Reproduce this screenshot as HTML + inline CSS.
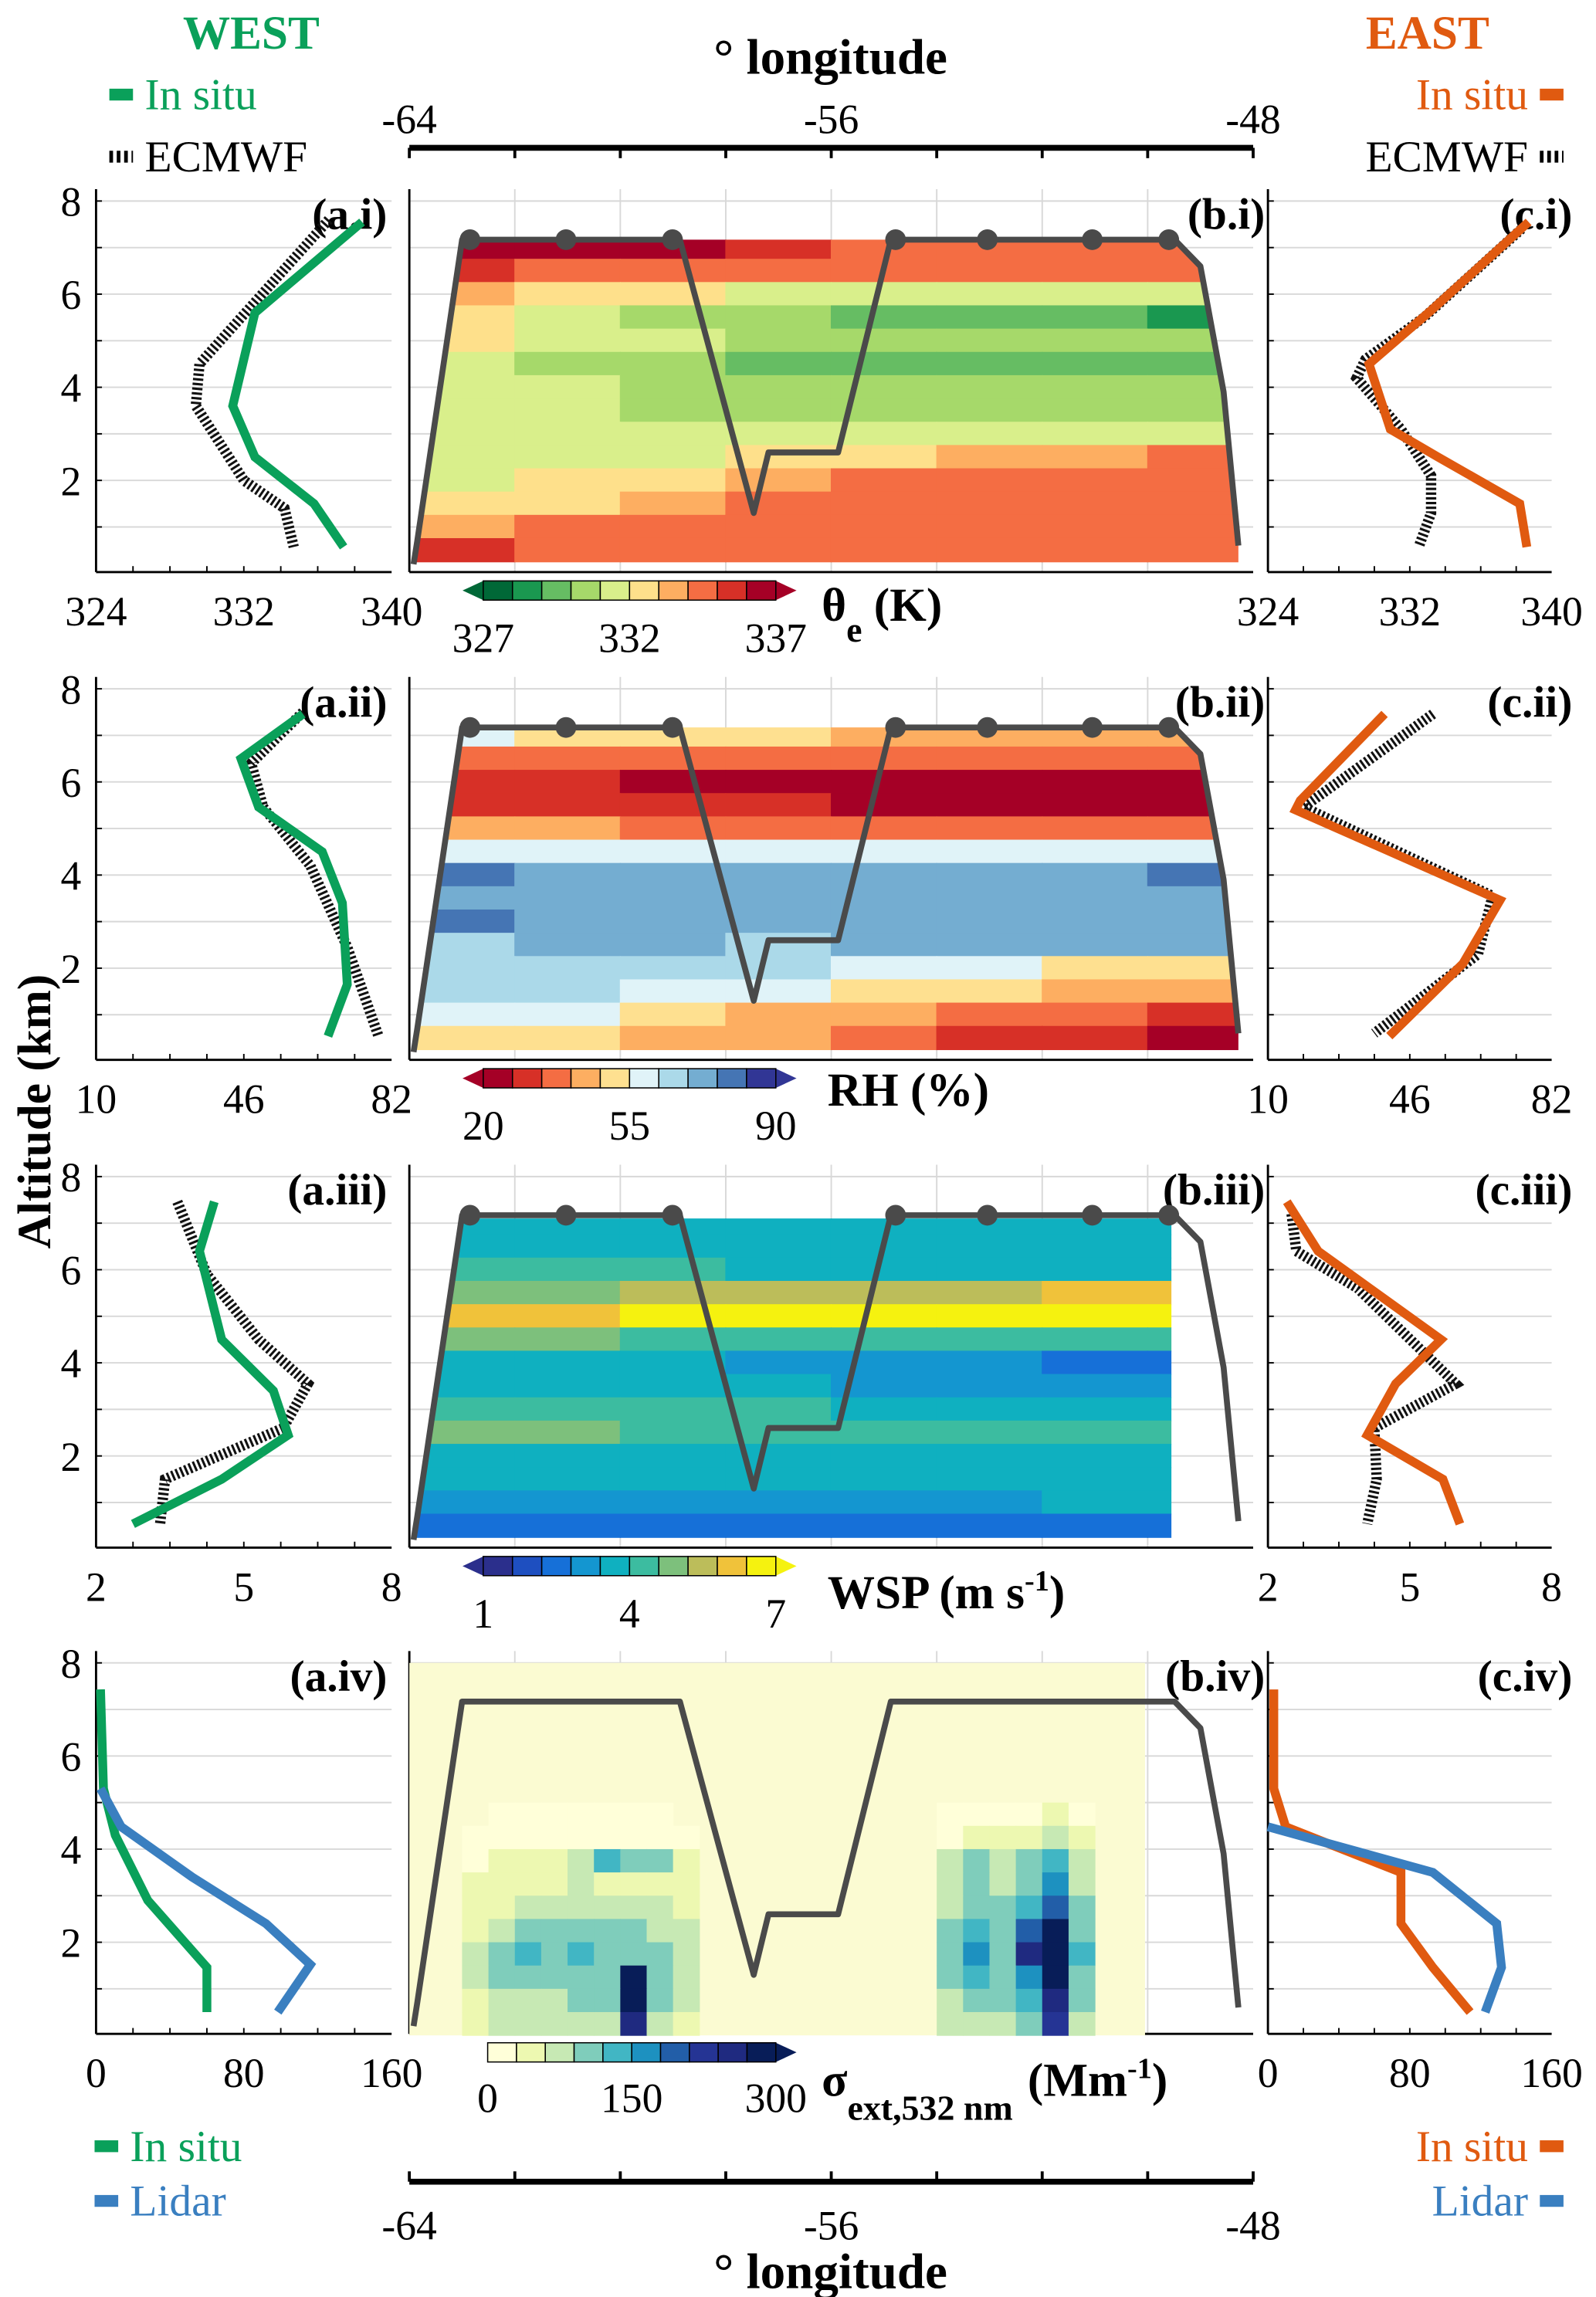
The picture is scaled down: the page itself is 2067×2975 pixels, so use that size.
<!DOCTYPE html>
<html><head><meta charset="utf-8"><style>
html,body{margin:0;padding:0;background:#fff;}
svg{display:block;}
text{font-family:"Liberation Serif",serif;}
</style></head><body>
<svg id="fig" width="2067" height="2975" viewBox="0 0 1080 1554" preserveAspectRatio="none" xmlns="http://www.w3.org/2000/svg"></svg>
<script>
// ---------- DATA ----------
const trackLon = [-63.92,-63.85,-63.0,-58.87,-57.47,-57.19,-55.87,-54.87,-49.49,-49.0,-48.56,-48.28];
const trackAlt = [0.2,0.7,7.17,7.17,1.3,2.6,2.6,7.17,7.17,6.6,3.9,0.6];
const dotLon = [-62.85,-61.03,-59.01,-54.78,-53.04,-51.05,-49.6];
const gridLonBins = [-64,-62,-60,-58,-56,-54,-52,-50];
const gridAlt = [7.0,6.5,6.0,5.5,5.0,4.5,4.0,3.5,3.0,2.5,2.0,1.5,1.0,0.5];
const thetaE = [
[336.5,336.5,336.5,335.5,334.5,334.5,334.5,334.5],
[335.5,334.5,334.5,334.5,334.5,334.5,334.5,334.5],
[333.5,332.5,332.5,331.5,331.5,331.5,331.5,331.5],
[332.5,331.5,330.5,330.5,329.5,329.5,329.5,328.5],
[332.5,331.5,331.5,330.5,330.5,330.5,330.5,330.5],
[331.5,330.5,330.5,329.5,329.5,329.5,329.5,329.5],
[331.5,331.5,330.5,330.5,330.5,330.5,330.5,330.5],
[331.5,331.5,330.5,330.5,330.5,330.5,330.5,330.5],
[331.5,331.5,331.5,331.5,331.5,331.5,331.5,331.5],
[331.5,331.5,331.5,332.5,332.5,333.5,333.5,334.5],
[331.5,332.5,332.5,333.5,334.5,334.5,334.5,334.5],
[332.5,332.5,333.5,334.5,334.5,334.5,334.5,334.5],
[333.5,334.5,334.5,334.5,334.5,334.5,334.5,334.5],
[335.5,334.5,334.5,334.5,334.5,334.5,334.5,334.5]];
const rhVals = [
[58.5,51.5,51.5,51.5,44.5,44.5,44.5,44.5],
[37.5,37.5,37.5,37.5,37.5,37.5,37.5,37.5],
[30.5,30.5,23.5,23.5,23.5,23.5,23.5,23.5],
[30.5,30.5,30.5,30.5,23.5,23.5,23.5,23.5],
[44.5,44.5,37.5,37.5,37.5,37.5,37.5,37.5],
[58.5,58.5,58.5,58.5,58.5,58.5,58.5,58.5],
[79.5,72.5,72.5,72.5,72.5,72.5,72.5,79.5],
[72.5,72.5,72.5,72.5,72.5,72.5,72.5,72.5],
[79.5,72.5,72.5,72.5,72.5,72.5,72.5,72.5],
[65.5,72.5,72.5,65.5,72.5,72.5,72.5,72.5],
[65.5,65.5,65.5,65.5,58.5,58.5,51.5,51.5],
[65.5,65.5,58.5,58.5,51.5,51.5,44.5,44.5],
[58.5,58.5,51.5,44.5,44.5,37.5,37.5,30.5],
[51.5,51.5,44.5,44.5,37.5,30.5,30.5,23.5]];
const wspVals = [
[3.7,3.7,3.7,3.7,3.7,3.7,3.7,3.7],
[3.7,3.7,3.7,3.7,3.7,3.7,3.7,3.7],
[4.3,4.3,4.3,3.7,3.7,3.7,3.7,3.7],
[4.9,4.9,5.5,5.5,5.5,5.5,6.1,6.1],
[6.1,6.1,6.7,6.7,6.7,6.7,6.7,6.7],
[4.9,4.9,4.3,4.3,4.3,4.3,4.3,4.3],
[3.7,3.7,3.7,3.1,3.1,3.1,2.5,2.5],
[3.7,3.7,3.7,3.7,3.1,3.1,3.1,3.1],
[4.3,4.3,4.3,4.3,3.7,3.7,3.7,3.7],
[4.9,4.9,4.3,4.3,4.3,4.3,4.3,4.3],
[3.7,3.7,3.7,3.7,3.7,3.7,3.7,3.7],
[3.7,3.7,3.7,3.7,3.7,3.7,3.7,3.7],
[3.1,3.1,3.1,3.1,3.1,3.1,3.7,3.7],
[2.5,2.5,2.5,2.5,2.5,2.5,2.5,2.5]];
const extAlt = [4.75,4.25,3.75,3.25,2.75,2.25,1.75,1.25,0.75,0.25];
const extLonW = [-62.75,-62.25,-61.75,-61.25,-60.75,-60.25,-59.75,-59.25,-58.75];
const extLonE = [-53.75,-53.25,-52.75,-52.25,-51.75,-51.25];
const extW = [
[0,10,15,20,10,15,5,10,0],
[5,20,20,25,20,20,15,20,10],
[20,30,30,40,60,120,90,110,30],
[30,40,40,50,60,50,50,40,40],
[40,50,60,60,70,80,70,60,50],
[50,70,90,100,110,100,90,80,60],
[60,110,120,100,140,100,110,90,70],
[60,90,100,90,100,110,300,100,70],
[50,80,80,80,90,100,290,90,60],
[40,70,70,70,70,80,250,80,50]];
const extE = [
[10,10,20,10,30,10],
[20,30,40,30,60,30],
[60,90,80,100,120,60],
[60,100,80,100,150,80],
[80,110,90,120,200,100],
[90,120,100,200,280,110],
[100,150,110,250,290,120],
[90,130,100,150,280,110],
[70,100,90,120,260,90],
[60,80,70,100,230,80]];
// profiles: [alt], [value]
const pAlt1 = [7.55,5.6,3.6,2.5,1.5,0.57];
const westInsitu1 = [338.4,332.6,331.4,332.6,335.8,337.4];
const westEcAlt1 = [7.6,4.5,3.6,2.0,1.4,0.57];
const westEc1 = [336.6,329.6,329.4,332.0,334.2,334.7];
const eastAlt1 = [7.55,5.65,4.5,3.1,2.5,1.5,0.57];
const eastInsitu1 = [338.7,333.2,329.7,330.9,333.6,338.2,338.6];
const eastEcAlt1 = [7.4,5.5,4.6,4.2,3.1,2.1,1.3,0.57];
const eastEc1 = [338.3,332.8,329.5,329.0,331.5,333.2,333.2,332.5];
const westAlt2 = [7.46,6.5,5.46,4.5,3.4,1.65,0.54];
const westInsitu2 = [60.4,45.3,49.6,65.1,70,71.2,66.5];
const westEcAlt2 = [7.5,6.4,5.46,4.2,2.45,0.54];
const westEc2 = [60.4,47.8,50.7,62.2,71.2,78.8];
const eastAlt2 = [7.46,5.6,5.4,3.46,2.1,0.54];
const eastInsitu2 = [39.6,18.2,17,68.9,59.5,40.8];
const eastEcAlt2 = [7.46,5.46,3.55,2.3,0.6];
const eastEc2 = [51.9,19,67,63.3,37];
const westAlt3 = [7.46,6.4,4.5,3.4,2.45,1.5,0.54];
const westInsitu3 = [4.4,4.1,4.55,5.6,5.9,4.55,2.75];
const westEcAlt3 = [7.46,5.9,4.5,3.55,2.6,1.5,0.54];
const westEc3 = [3.65,4.25,5.3,6.3,5.8,3.4,3.3];
const eastAlt3 = [7.46,6.4,4.5,3.55,2.45,1.5,0.54];
const eastInsitu3 = [2.4,3.06,5.66,4.7,4.1,5.7,6.06];
const eastEcAlt3 = [7.2,6.4,5.6,3.55,2.6,1.5,0.54];
const eastEc3 = [2.5,2.6,3.9,5.97,4.25,4.3,4.1];
const westAlt4 = [7.43,5.3,4.3,2.9,1.46,0.5];
const westInsitu4 = [2.4,4,10.4,28,60,60];
const westLidAlt4 = [5.3,4.48,3.4,2.4,1.52,0.5];
const westLidar4 = [2.4,13.6,52,92,116,98.4];
const eastAlt4 = [7.43,5.3,4.48,3.5,2.4,1.46,0.5];
const eastInsitu4 = [3.3,3.3,10,75,75,93,114];
const eastLidAlt4 = [4.48,3.5,2.4,1.46,0.5];
const eastLidar4 = [0,93,129,131.7,122.5];
const xTicksLon = [-64,-56,-48];
const altTicks = [2,4,6,8];
const leftRange = [[324,340],[10,82],[2,8],[0,160]];
const leftTickLabels = [["324","332","340"],["10","46","82"],["2","5","8"],["0","80","160"]];
const cbTicks = [["327","332","337"],["20","55","90"],["1","4","7"],["0","150","300"]];
// ---------- STYLE ----------
const GREEN='#0aa05a', ORANGE='#e05a10', BLUE='#3a7fc0', TRACK='#4a4a4a';
const cmTheta=['#006837','#1a9850','#66bd63','#a6d96a','#d9ef8b','#fee08b','#fdae61','#f46d43','#d73027','#a50026'];
const cmRH=['#a50026','#d73027','#f46d43','#fdae61','#fee090','#e0f3f8','#abd9e9','#74add1','#4575b4','#313695'];
const cmWSP=['#2b2f8c','#1e4fc0','#1670d8','#1496d0','#0fb0c0','#3cbca0','#7dc07c','#bcbd5a','#f0c23a','#f5f20f'];
const cmExt=['#ffffd9','#edf8b1','#c7e9b4','#7fcdbb','#41b6c4','#1d91c0','#225ea8','#253494','#1f2a80','#081d58'];
const rowY8=[136,466,796,1125];
const KM=31.5;
const NS='http://www.w3.org/2000/svg';
const svg=document.getElementById('fig');
function mk(tag,at,parent){const e=document.createElementNS(NS,tag);for(const k in at)e.setAttribute(k,at[k]);(parent||svg).appendChild(e);return e;}
function y0(r){return rowY8[r]+8*KM;}
function yA(r,a){return y0(r)-a*KM;}
function xLon(l){return 277+(l+64)/16*571;}
function xL(r,v){const [a,b]=leftRange[r];return 65+(v-a)/(b-a)*200;}
function xR(r,v){const [a,b]=leftRange[r];return 858+(v-a)/(b-a)*192;}
function txt(x,y,s,size,opts){const t=mk('text',Object.assign({x:x,y:y,'font-size':size,fill:'#000'},opts||{}));t.textContent=s;return t;}
function idxOf(v,lo,step){return Math.max(0,Math.min(9,Math.floor((v-lo)/step)));}

// ---------- TITLES ----------
let t;
t=txt(170,33,'WEST',32,{'font-weight':'bold','text-anchor':'middle',fill:GREEN});

t=txt(966,33,'EAST',32,{'font-weight':'bold','text-anchor':'middle',fill:ORANGE});

t=txt(562,50,'° longitude',34,{'font-weight':'bold','text-anchor':'middle'});

t=txt(562,1548,'° longitude',34,{'font-weight':'bold','text-anchor':'middle'});

t=txt(0,0,'Altitude (km)',32,{'font-weight':'bold','text-anchor':'middle',transform:'translate(34,752) rotate(-90)'});


function legend(x,y,label,color,kind,align,name){
  const g=mk('g',{});
  
  
  const mx = align==='left'? x : x-16;
  if(kind==='solid') mk('rect',{x:mx,y:y-14,width:16,height:8,fill:color},g);
  else mk('line',{x1:mx,y1:y-10,x2:mx+16,y2:y-10,stroke:'#000','stroke-width':8,'stroke-dasharray':'2.5,2.5'},g);
  const tx = align==='left'? x+24 : x-24;
  const e=mk('text',{x:tx,y:y,'font-size':30,fill:color,'text-anchor':align==='left'?'start':'end'},g);
  e.textContent=label;
}
legend(74,74,'In situ',GREEN,'solid','left','west-legend-insitu');
legend(74,116,'ECMWF','#000','dash','left','west-legend-ecmwf');
legend(1058,74,'In situ',ORANGE,'solid','right','east-legend-insitu');
legend(1058,116,'ECMWF','#000','dash','right','east-legend-ecmwf');
legend(64,1462,'In situ',GREEN,'solid','left','west-legend-insitu-bottom');
legend(64,1499,'Lidar',BLUE,'solid','left','west-legend-lidar');
legend(1058,1462,'In situ',ORANGE,'solid','right','east-legend-insitu-bottom');
legend(1058,1499,'Lidar',BLUE,'solid','right','east-legend-lidar');

// top and bottom longitude axes
function lonAxis(y,ly,name,tickDir){
  const g=mk('g',{});
  
  
  mk('line',{x1:277,y1:y,x2:848,y2:y,stroke:'#000','stroke-width':4},g);
  for(let l=-64;l<=-48;l+=2){mk('line',{x1:xLon(l),y1:y,x2:xLon(l),y2:y+tickDir*7,stroke:'#000','stroke-width':2},g);}
  xTicksLon.forEach(l=>{const e=mk('text',{x:xLon(l),y:ly,'font-size':28,'text-anchor':'middle'},g);e.textContent=String(l);});
}
lonAxis(100,90,'top-longitude-axis',1);
lonAxis(1476,1515,'bottom-longitude-axis',-1);

// ---------- PANELS ----------
const panelTags=['i','ii','iii','iv'];
for(let r=0;r<4;r++){
  const top=rowY8[r]-8, bot=y0(r)-1;
  // grid & frames for three panels
  [[65,265,'a'],[277,848,'b'],[858,1050,'c']].forEach(([x1,x2,p])=>{
    const g=mk('g',{});
    
    
    for(let a=1;a<=8;a++) mk('line',{x1:x1,y1:yA(r,a),x2:x2,y2:yA(r,a),stroke:'#d8d8d8','stroke-width':1},g);
    if(p==='b') for(let l=-62;l<=-50;l+=2) mk('line',{x1:xLon(l),y1:top,x2:xLon(l),y2:bot,stroke:'#d8d8d8','stroke-width':1},g);
    mk('line',{x1:x1,y1:top,x2:x1,y2:bot,stroke:'#000','stroke-width':1.5},g);
    mk('line',{x1:x1,y1:bot,x2:x2,y2:bot,stroke:'#000','stroke-width':1.5},g);
    if(p!=='b'){for(let i=1;i<8;i++){const xx=x1+(x2-x1)*i/8;mk('line',{x1:xx,y1:bot,x2:xx,y2:bot-4,stroke:'#000','stroke-width':1},g);}
      for(let a=1;a<=8;a++) mk('line',{x1:x1,y1:yA(r,a),x2:x1+4,y2:yA(r,a),stroke:'#000','stroke-width':1},g);}
  });
  // y tick labels
  altTicks.forEach(a=>{const e=txt(48,yA(r,a)+10,String(a),28,{'text-anchor':'middle'});
    });
  // x tick labels left/right
  leftTickLabels[r].forEach((s,i)=>{
    let e=txt(65+100*i,bot+36,s,28,{'text-anchor':'middle'});
    
    e=txt(858+96*i,bot+36,s,28,{'text-anchor':'middle'});
    
  });
  // panel labels
  [['a',262],['b',856],['c',1064]].forEach(([p,x])=>{
    const e=txt(x,rowY8[r]+19,'('+p+'.'+panelTags[r]+')',30,{'font-weight':'bold','text-anchor':'end'});
    
  });
}

// ---------- HEATMAPS ----------
const defs=mk('defs',{});
function clipFor(r,id,rightVertical){
  const cp=mk('clipPath',{id:id},defs);
  let pts;
  if(rightVertical) pts=[[-63.92,0.2],[-63.85,0.7],[-63.0,7.1],[-49.55,7.1],[-49.55,0.2]];
  else pts=[[-63.92,0.2],[-63.85,0.7],[-63.0,7.17],[-49.49,7.17],[-49.0,6.6],[-48.56,3.9],[-48.28,0.6],[-48.28,0.2]];
  mk('polygon',{points:pts.map(p=>xLon(p[0])+','+yA(r,p[1])).join(' ')},cp);
}
function heat(r,vals,cm,lo,step,name,rightVertical){
  clipFor(r,'clip'+r,rightVertical);
  const g=mk('g',{'clip-path':'url(#clip'+r+')'});
  
  
  gridAlt.forEach((a,i)=>{
    gridLonBins.forEach((l,j)=>{
      const c=mk('rect',{x:xLon(l)-0.3,y:yA(r,a+0.25+(i===0?0.3:0))-0.3,width:571/8+0.6,height:KM*(0.5+(i===0?0.3:0))+0.6,fill:cm[idxOf(vals[i][j],lo,step)]},g);
      
      
    });
  });
}
heat(0,thetaE,cmTheta,327,1,'theta-e-heatmap',false);
heat(1,rhVals,cmRH,20,7,'rh-heatmap',false);
heat(2,wspVals,cmWSP,1,0.6,'wsp-heatmap',true);
// extinction
{
  const bg=mk('rect',{x:277,y:yA(3,8),width:xLon(-50.05)-277,height:8*KM,fill:'#fbfbd2'});
  
  
  const g=mk('g',{});
  
  
  const draw=(lons,vals)=>{extAlt.forEach((a,i)=>lons.forEach((l,j)=>{const v=vals[i][j];if(v<=0)return;
    const c=mk('rect',{x:xLon(l-0.25),y:yA(3,a+0.25),width:571/32+0.3,height:KM*0.5+0.3,fill:cmExt[idxOf(v,0,30)]},g);
    
    }));};
  draw(extLonW,extW);draw(extLonE,extE);
}

// ---------- TRACKS ----------
for(let r=0;r<4;r++){
  const p=mk('polyline',{points:trackLon.map((l,i)=>xLon(l)+','+yA(r,trackAlt[i])).join(' '),fill:'none',stroke:TRACK,'stroke-width':4,'stroke-linejoin':'round'});
  
  
  if(r<3) dotLon.forEach(l=>{const c=mk('circle',{cx:xLon(l),cy:yA(r,7.17),r:7,fill:TRACK});
    
    });
}

// ---------- PROFILES ----------
function prof(r,side,alts,vals,color,dashed,name){
  const f= side==='w'? xL : xR;
  const attrs={points:alts.map((a,i)=>f(r,vals[i])+','+yA(r,a)).join(' '),fill:'none',stroke:dashed?'#111':color,'stroke-width':dashed?7:6,'stroke-linejoin':'miter'};
  if(dashed) attrs['stroke-dasharray']='1.6,1.6';
  const p=mk('polyline',attrs);
  
  
}
prof(0,'w',westEcAlt1,westEc1,'#000',true,'west-ecmwf-theta');
prof(0,'w',pAlt1,westInsitu1,GREEN,false,'west-insitu-theta');
prof(0,'e',eastEcAlt1,eastEc1,'#000',true,'east-ecmwf-theta');
prof(0,'e',eastAlt1,eastInsitu1,ORANGE,false,'east-insitu-theta');
prof(1,'w',westEcAlt2,westEc2,'#000',true,'west-ecmwf-rh');
prof(1,'w',westAlt2,westInsitu2,GREEN,false,'west-insitu-rh');
prof(1,'e',eastEcAlt2,eastEc2,'#000',true,'east-ecmwf-rh');
prof(1,'e',eastAlt2,eastInsitu2,ORANGE,false,'east-insitu-rh');
prof(2,'w',westEcAlt3,westEc3,'#000',true,'west-ecmwf-wsp');
prof(2,'w',westAlt3,westInsitu3,GREEN,false,'west-insitu-wsp');
prof(2,'e',eastEcAlt3,eastEc3,'#000',true,'east-ecmwf-wsp');
prof(2,'e',eastAlt3,eastInsitu3,ORANGE,false,'east-insitu-wsp');
prof(3,'w',westAlt4,westInsitu4,GREEN,false,'west-insitu-extinction');
prof(3,'w',westLidAlt4,westLidar4,BLUE,false,'west-lidar-extinction');
prof(3,'e',eastAlt4,eastInsitu4,ORANGE,false,'east-insitu-extinction');
prof(3,'e',eastLidAlt4,eastLidar4,BLUE,false,'east-lidar-extinction');

// ---------- COLORBARS ----------
const cbY=[393,723,1053,1382];
const cms=[cmTheta,cmRH,cmWSP,cmExt];
const cbNames=['theta-e-colorbar','rh-colorbar','wsp-colorbar','extinction-colorbar'];
for(let r=0;r<4;r++){
  const g=mk('g',{});
  
  
  const x0=r===3?330:327, w=(525-x0)/10, y=cbY[r], h=13;
  if(r!==3) mk('polygon',{points:`${x0},${y} ${x0},${y+h} ${x0-14},${y+h/2}`,fill:cms[r][0]},g);
  mk('polygon',{points:`${x0+10*w},${y} ${x0+10*w},${y+h} ${x0+10*w+14},${y+h/2}`,fill:cms[r][9]},g);
  cms[r].forEach((c,i)=>mk('rect',{x:x0+i*w,y:y,width:w,height:h,fill:c,stroke:'#000','stroke-width':0.8},g));
  cbTicks[r].forEach((s,i)=>{const e=mk('text',{x:x0+i*5*w,y:y+(r===0?48:r===3?47:48),'font-size':28,'text-anchor':'middle'},g);e.textContent=s;});
}
function label(x,y,html,name){const e=mk('text',{x:x,y:y,'font-size':32,'font-weight':'bold'});e.innerHTML=html;
  }
label(556,420,'θ<tspan font-size="24" dy="14">e</tspan><tspan dy="-14"> (K)</tspan>','theta-e-label');
label(560,748,'RH (%)','rh-label');
label(560,1088,'WSP (m s<tspan font-size="20" dy="-12">-1</tspan><tspan dy="12">)</tspan>','wsp-label');
label(556,1418,'σ<tspan font-size="24" dy="16">ext,532 nm</tspan><tspan dy="-16" dx="10">(Mm</tspan><tspan font-size="20" dy="-12">-1</tspan><tspan dy="12">)</tspan>','extinction-label');
</script>
</body></html>
